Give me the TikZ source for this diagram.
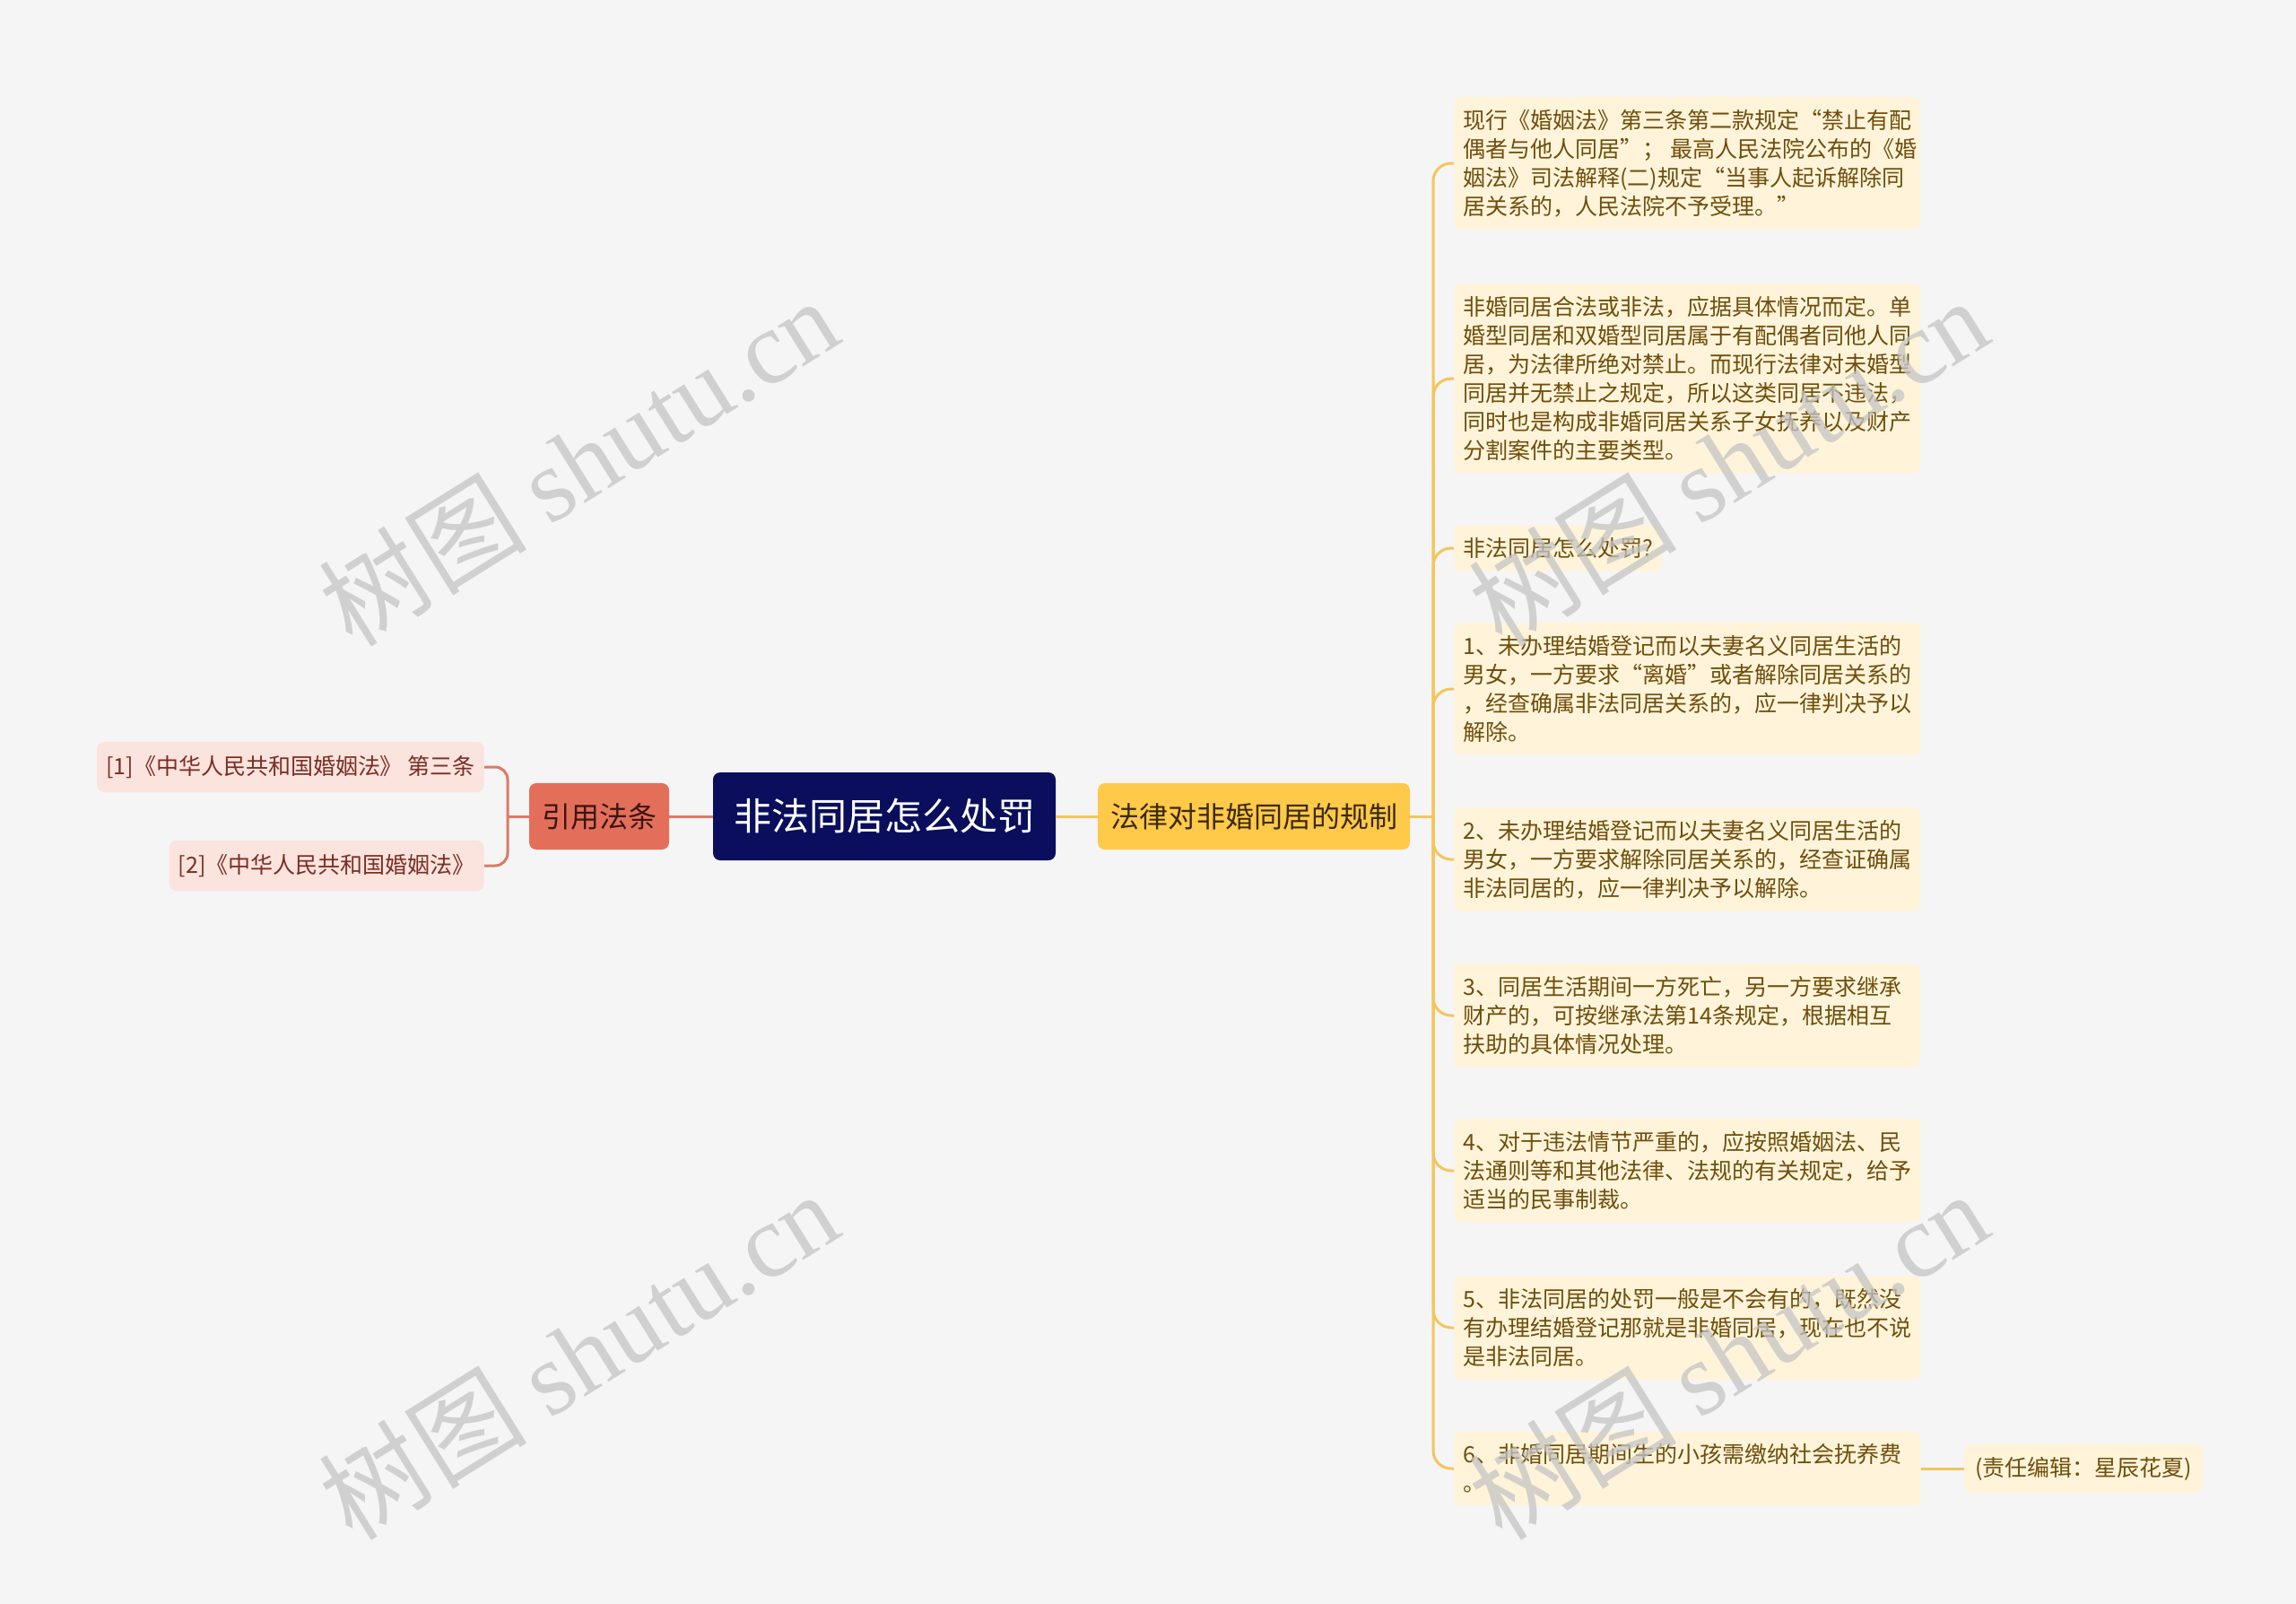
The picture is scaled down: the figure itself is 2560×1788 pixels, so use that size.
\documentclass[tikz,border=0pt]{standalone}
\usepackage{fontspec}
\setmainfont{Noto Sans CJK SC}
\newfontfamily\wmfont{Liberation Serif}
\definecolor{bgc}{HTML}{F5F5F5}
\definecolor{navy}{HTML}{0A0E5C}
\definecolor{citefill}{HTML}{E36F5A}
\definecolor{citetext}{HTML}{3C1510}
\definecolor{reffill}{HTML}{FBE3DE}
\definecolor{reftext}{HTML}{7A2E22}
\definecolor{lawfill}{HTML}{FFC94A}
\definecolor{lawtext}{HTML}{3B2A0A}
\definecolor{leaffill}{HTML}{FFF4DA}
\definecolor{leaftext}{HTML}{6F4E0C}
\definecolor{lcol}{HTML}{DB7A66}
\definecolor{rcol}{HTML}{F3C65C}
\definecolor{wmcol}{HTML}{C4C4C4}
\tikzset{
  rootbox/.style={fill=navy, text=white, rounded corners=4pt, minimum width=191pt, minimum height=49pt, font=\fontsize{21pt}{25pt}\selectfont},
  citebox/.style={fill=citefill, text=citetext, rounded corners=4pt, minimum width=78pt, minimum height=37pt, font=\fontsize{16pt}{19pt}\selectfont},
  lawbox/.style={fill=lawfill, text=lawtext, rounded corners=4pt, minimum width=174pt, minimum height=37pt, font=\fontsize{16pt}{19pt}\selectfont},
  refbox/.style={fill=reffill, text=reftext, rounded corners=4pt, inner xsep=5pt, minimum height=28pt, anchor=east, font=\fontsize{12.5pt}{16pt}\selectfont},
  leafbox/.style={fill=leaffill, text=leaftext, rounded corners=4pt, inner xsep=5pt, inner ysep=7pt, anchor=west, align=left, font=\fontsize{12.5pt}{16pt}\selectfont},
  widebox/.style={leafbox, text width=250pt},
  edbox/.style={fill=leaffill, text=leaftext, rounded corners=4pt, inner xsep=6pt, minimum height=27pt, anchor=west, font=\fontsize{12.5pt}{16pt}\selectfont},
  lline/.style={draw=lcol, line width=1.5pt},
  rline/.style={draw=rcol, line width=1.5pt},
  wmark/.style={text=wmcol, text opacity=0.75, rotate=32, font=\fontsize{58pt}{60pt}\selectfont}
}
\begin{document}
\begin{tikzpicture}[x=0.5pt, y=-0.5pt]
\fill[bgc] (0,0) rectangle (2560,1788);
\useasboundingbox (0,0) rectangle (2560,1788);

% main row
\node[rootbox] (root) at (986,910) {非法同居怎么处罚};
\node[citebox] (cite) at (668,910) {引用法条};
\node[lawbox] (law) at (1398,910) {法律对非婚同居的规制};

% cited articles
\node[refbox] (c1) at (540,855) {[1]《中华人民共和国婚姻法》 第三条};
\node[refbox] (c2) at (540,965) {[2]《中华人民共和国婚姻法》};

% rules
\node[widebox] (r1) at (1621,182) {现行《婚姻法》第三条第二款规定“禁止有配\\偶者与他人同居”；\hbox{}\kern3pt 最高人民法院公布的《婚\\姻法》司法解释(二)规定“当事人起诉解除同\\居关系的，人民法院不予受理。”};
\node[widebox] (r2) at (1621,422) {非婚同居合法或非法，应据具体情况而定。单\\婚型同居和双婚型同居属于有配偶者同他人同\\居，为法律所绝对禁止。而现行法律对未婚型\\同居并无禁止之规定，所以这类同居不违法，\\同时也是构成非婚同居关系子女抚养以及财产\\分割案件的主要类型。};
\node[leafbox] (r3) at (1621,611) {非法同居怎么处罚?};
\node[widebox] (r4) at (1621,768) {1、未办理结婚登记而以夫妻名义同居生活的\\男女，一方要求“离婚”或者解除同居关系的\\，经查确属非法同居关系的，应一律判决予以\\解除。};
\node[widebox] (r5) at (1621,958) {2、未办理结婚登记而以夫妻名义同居生活的\\男女，一方要求解除同居关系的，经查证确属\\非法同居的，应一律判决予以解除。};
\node[widebox] (r6) at (1621,1132) {3、同居生活期间一方死亡，另一方要求继承\\财产的，可按继承法第14条规定，根据相互\\扶助的具体情况处理。};
\node[widebox] (r7) at (1621,1305) {4、对于违法情节严重的，应按照婚姻法、民\\法通则等和其他法律、法规的有关规定，给予\\适当的民事制裁。};
\node[widebox] (r8) at (1621,1480) {5、非法同居的处罚一般是不会有的，既然没\\有办理结婚登记那就是非婚同居，现在也不说\\是非法同居。};
\node[widebox] (r9) at (1621,1637) {6、非婚同居期间生的小孩需缴纳社会抚养费\\。};
\node[edbox] (ed) at (2190,1637) {(责任编辑：星辰花夏)};

\coordinate (lfork) at (566,910);
\coordinate (rfork) at (1598,910);

% left branch
\draw[lline] (cite) -- (root);
\draw[lline] (cite.west) -- (lfork);
\draw[lline, rounded corners=7pt] (lfork) |- (c1.east);
\draw[lline, rounded corners=7pt] (lfork) |- (c2.east);

% right branch
\draw[rline] (root) -- (law);
\draw[rline] (law.east) -- (rfork);
\foreach \i in {1,...,9}
  \draw[rline, rounded corners=10pt] (rfork) |- (r\i.west);
\draw[rline] (r9) -- (ed);

% watermarks
\foreach \wx/\wy [count=\k] in {645/514, 1927/514, 645/1510, 1927/1510}
  \node[wmark] (wm\k) at (\wx,\wy) {树图 {\wmfont shutu.cn}};
\end{tikzpicture}
\end{document}
